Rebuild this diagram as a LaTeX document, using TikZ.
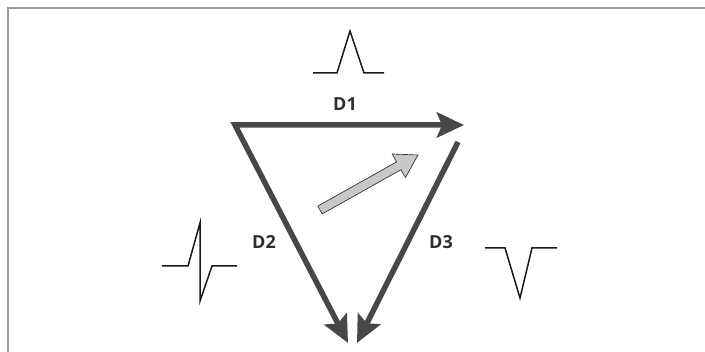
\documentclass[tikz,border=0pt]{standalone}
\usepackage{fontspec}
\setmainfont{Open Sans}
\usetikzlibrary{arrows.meta}
\definecolor{arr}{HTML}{474747}
\definecolor{lbl}{HTML}{2E2E2E}
\definecolor{frame}{HTML}{9A9A9A}
\definecolor{fillg}{HTML}{C8C8C8}
\tikzset{
  bigarrow/.style={draw=arr, line width=5.5pt, line join=miter,
    -{Stealth[length=27pt,width=25pt,inset=5pt]}},
  bigarrowboth/.style={draw=arr, line width=5.5pt, line join=miter,
    {Stealth[length=27pt,width=25pt,inset=5pt]}-{Stealth[length=27pt,width=25pt,inset=5pt]}},
  lab/.style={font=\bfseries\fontsize{18}{20}\selectfont, text=lbl, inner sep=0pt},
  wave/.style={draw=black!90, line width=1.5pt, line join=miter},
  greyarrow/.style={draw=black!80, line width=0.7pt, fill=fillg, line join=miter}
}
\begin{document}
\begin{tikzpicture}[x=1pt,y=-1pt]
\useasboundingbox (0,0) rectangle (705,352);
\fill[white] (0,0) rectangle (705,352);
% frame
\draw[frame, line width=1.8pt] (8,352) -- (8,8) -- (705,8);
% main triangle arrows
\coordinate (A) at (235,125);
\coordinate (B) at (464,125);
\coordinate (C) at (458,142);
\coordinate (L) at (348,343);
\coordinate (R) at (357,343);
\draw[bigarrowboth] (L) -- (A) -- (B);
\draw[bigarrow] (C) -- (R);
% grey arrow
\coordinate (t1) at (322.2,213.9);
\coordinate (n1) at (401.0,169.7);
\coordinate (b1) at (405.4,177.6);
\coordinate (tip) at (418,155);
\coordinate (b2) at (392.2,154.0);
\coordinate (n2) at (396.6,161.9);
\coordinate (t2) at (317.8,206.1);
\draw[greyarrow] (t1) -- (n1) -- (b1) -- (tip) -- (b2) -- (n2) -- (t2) -- cycle;
% labels
\node[lab] (d1) at (345,104) {D1};
\node[lab] (d2) at (264,242) {D2};
\node[lab] (d3) at (441,242) {D3};
% waveforms
\draw[wave] (313,73) -- (337,73) -- (350,31) -- (364,73) -- (384,73);
\draw[wave] (162,266) -- (188,266) -- (200,223) -- (200,301) -- (212,266) -- (237,266);
\draw[wave] (485,248) -- (505,248) -- (520,298) -- (532,248) -- (557,248);
\end{tikzpicture}
\end{document}
